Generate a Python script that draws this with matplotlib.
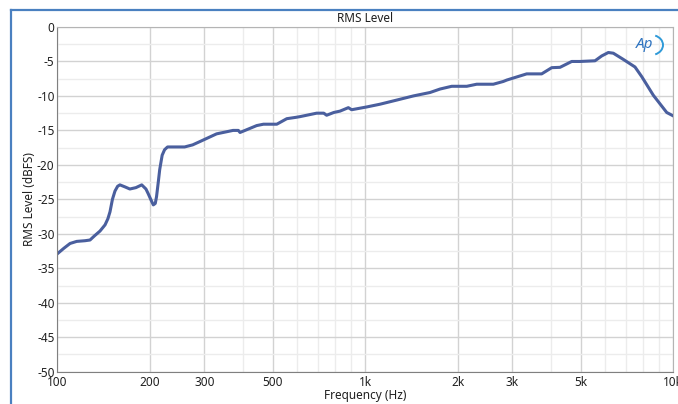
import matplotlib
matplotlib.use('Agg')
import matplotlib.pyplot as plt
from matplotlib.patches import Arc
from matplotlib.ticker import FixedLocator, NullFormatter
import numpy as np

plt.rcParams['font.family'] = ['Noto Sans', 'DejaVu Sans']

# RMS level sweep (Hz, dBFS)
freq = [100, 105, 110, 115.6, 123, 127.7, 132, 137.6, 142.9, 146, 148.3, 151, 153.9, 157, 159.7, 166,
        172, 180, 188, 194, 197.4, 202, 205, 208, 210, 213, 215, 219, 223, 228, 232, 259, 275, 291, 329, 372,
        387, 392, 444, 467, 516, 556, 596, 614, 695, 733, 749, 790, 828, 881, 903,
        1010, 1116, 1265, 1432, 1623, 1748, 1908, 2135, 2300, 2604, 2806, 2878,
        3024, 3342, 3738, 4030, 4287, 4679, 4979, 5570, 5855, 6152, 6386, 6882,
        7510, 7898, 8612, 9520, 10000]
level = [-32.9, -32.1, -31.4, -31.1, -31.0, -30.9, -30.3, -29.6, -28.7, -27.8, -26.8, -25.0, -23.8, -23.1, -22.9, -23.2,
         -23.5, -23.3, -22.9, -23.5, -24.2, -25.2, -25.8, -25.6, -24.6, -22.3, -20.7, -18.6, -17.8, -17.4, -17.4, -17.4,
         -17.1, -16.6, -15.5, -15.0,
         -15.0, -15.3, -14.3, -14.1, -14.1, -13.3, -13.1, -13.0, -12.5, -12.5, -12.8, -12.4, -12.2, -11.7, -12.0,
         -11.6, -11.2, -10.6, -10.0, -9.5, -9.0, -8.6, -8.6, -8.3,
         -8.3, -7.9, -7.7, -7.4, -6.8, -6.8, -5.9, -5.85, -5.0, -5.0,
         -4.9, -4.2, -3.7, -3.8, -4.7, -5.8, -7.2, -9.9, -12.4, -12.9]

xticks = [100, 200, 300, 500, 1000, 2000, 3000, 5000, 10000]
xlabels = ['100', '200', '300', '500', '1k', '2k', '3k', '5k', '10k']
xminor = [400, 600, 700, 800, 900, 4000, 6000, 7000, 8000, 9000]
yticks = list(range(-50, 1, 5))
yminor = list(np.arange(-47.5, 0, 5))

fig = plt.figure(figsize=(6.78, 4.04), dpi=100)
ax = fig.add_axes([57.3 / 678, 1 - 371.7 / 404, 616 / 678, 344.7 / 404])

ax.plot(freq, level, color='#4a5f9e', lw=2.2, solid_joinstyle='round')

ax.set_xscale('log')
ax.set_xlim(100, 10000)
ax.set_ylim(-50, 0)
ax.xaxis.set_major_locator(FixedLocator(xticks))
ax.set_xticklabels(xlabels)
ax.xaxis.set_minor_locator(FixedLocator(xminor))
ax.xaxis.set_minor_formatter(NullFormatter())
ax.set_yticks(yticks)
ax.set_yticklabels([str(v) for v in yticks])
ax.yaxis.set_minor_locator(FixedLocator(yminor))

ax.grid(True, which='major', color='#d2d2d2', lw=1.0)
ax.grid(True, which='minor', color='#ececec', lw=1.0)
ax.set_axisbelow(True)
ax.tick_params(which='both', length=0, labelsize=8.5, colors='#202020', pad=2)
ax.tick_params(axis='x', pad=3)
for s in ax.spines.values():
    s.set_color('#b4b4b4')
ax.spines['left'].set_color('#808080')
ax.spines['bottom'].set_color('#808080')

ax.set_xlabel('Frequency (Hz)', fontsize=8.5, color='#202020', labelpad=0)
ax.set_ylabel('RMS Level (dBFS)', fontsize=8.5, color='#202020', labelpad=1)
fig.text(365 / 678, 1 - 18 / 404, 'RMS Level', ha='center', va='center',
         fontsize=8.5, color='#202020')

# outer frame
fig.add_artist(plt.Line2D([11 / 678, 11 / 678], [0, 1 - 10 / 404],
                          transform=fig.transFigure, color='#4a80c0', lw=1.6))
fig.add_artist(plt.Line2D([11 / 678, 1], [1 - 10 / 404, 1 - 10 / 404],
                          transform=fig.transFigure, color='#4a80c0', lw=1.6))

# logo
fig.text(645 / 678, 1 - 45 / 404, 'Ap', ha='center', va='center', fontsize=11,
         fontweight='bold', style='italic', color='#2f74c0')
fig.add_artist(Arc((651 / 678, 1 - 45 / 404), 24 / 678, 20 / 404, theta1=-75, theta2=75,
                   transform=fig.transFigure, color='#2f9ad8', lw=1.4))

fig.savefig('out.png', dpi=100)
